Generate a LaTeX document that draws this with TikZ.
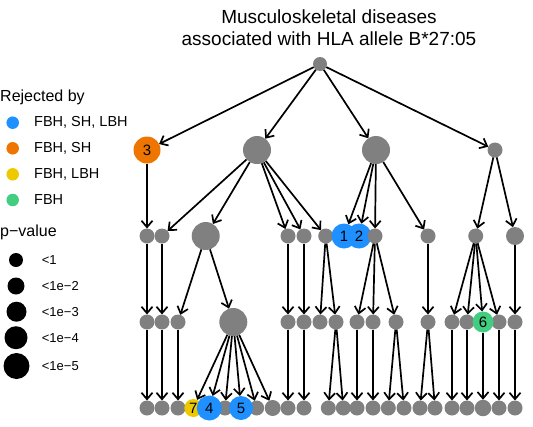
\documentclass[tikz,border=0pt]{standalone}
\usepackage{fontspec}
\setmainfont{Liberation Sans}
\usetikzlibrary{arrows.meta,backgrounds}
\definecolor{vgray}{RGB}{128,128,128}
\definecolor{vblue}{RGB}{30,144,255}
\definecolor{vorange}{RGB}{238,118,0}
\definecolor{vgold}{RGB}{238,201,0}
\definecolor{vgreen}{RGB}{67,205,128}
\tikzset{
  vtx/.style={circle, fill=vgray, inner sep=0pt, outer sep=0pt, minimum size=#1, font=\fontsize{15}{15}\selectfont},
  vtx/.default=15pt,
  edge/.style={line width=1.7pt, -{Straight Barb[length=6.5pt,width=11pt]}},
  legtxt/.style={anchor=west, inner sep=0pt, font=\fontsize{14.5}{15}\selectfont},
  pvtxt/.style={anchor=west, inner sep=0pt, font=\fontsize{13}{14}\selectfont},
  head/.style={anchor=west, inner sep=0pt, font=\fontsize{16}{17}\selectfont},
  ttl/.style={anchor=base, inner sep=0pt, font=\fontsize{19}{21}\selectfont},
  ldot/.style={circle, inner sep=0pt, outer sep=0pt, minimum size=#1},
}
\begin{document}
\begin{tikzpicture}[x=1pt,y=-1pt]
\useasboundingbox (0,0) rectangle (533,426);
% title
\node[ttl] (t1) at (329,23.3) {Musculoskeletal diseases};
\node[ttl] (t2) at (329,45) {associated with HLA allele B*27:05};
% legend
\node[head] (lh1) at (0,97) {Rejected by};
\node[ldot=12.5pt, fill=vblue] (lc1) at (12.7,122.7) {};
\node[ldot=12.5pt, fill=vorange] (lc2) at (12.7,148.3) {};
\node[ldot=12.5pt, fill=vgold] (lc3) at (12.7,174.3) {};
\node[ldot=12.5pt, fill=vgreen] (lc4) at (12.7,200) {};
\node[legtxt] (lt1) at (34,122.7) {FBH, SH, LBH};
\node[legtxt] (lt2) at (34,148.3) {FBH, SH};
\node[legtxt] (lt3) at (34,174.3) {FBH, LBH};
\node[legtxt] (lt4) at (34,200) {FBH};
\node[head] (lh2) at (0,232) {p−value};
\node[ldot=14pt, fill=black] (lp1) at (16,260) {};
\node[ldot=17pt, fill=black] (lp2) at (16,286) {};
\node[ldot=20pt, fill=black] (lp3) at (16.5,311.7) {};
\node[ldot=23pt, fill=black] (lp4) at (16,337.7) {};
\node[ldot=26pt, fill=black] (lp5) at (16.5,366) {};
\node[pvtxt] (lq1) at (41.7,260) {<1};
\node[pvtxt] (lq2) at (41.7,286) {<1e−2};
\node[pvtxt] (lq3) at (41.7,311.7) {<1e−3};
\node[pvtxt] (lq4) at (41.7,337.7) {<1e−4};
\node[pvtxt] (lq5) at (41.7,366) {<1e−5};
% level 0
\node[vtx=14pt] (r) at (320,64) {};
% level 1
\node[vtx=27pt, fill=vorange] (a1) at (147,150) {3};
\node[vtx=28pt] (a2) at (257,150) {};
\node[vtx=28pt] (a3) at (376,150) {};
\node[vtx] (a4) at (495,150) {};
% level 2
\node[vtx] (b1) at (147,236) {};
\node[vtx] (b2) at (162,236) {};
\node[vtx=28pt] (b3) at (205.7,236) {};
\node[vtx] (b4) at (288,236) {};
\node[vtx] (b5) at (304,236) {};
\node[vtx] (b6) at (325.7,236) {};
\node[vtx=25pt, fill=vblue] (b7) at (344,236) {1};
\node[vtx=25pt, fill=vblue] (b8) at (359,236) {2};
\node[vtx] (b9) at (375,236) {};
\node[vtx] (b10) at (428,236) {};
\node[vtx] (b11) at (475.7,236) {};
\node[vtx=18pt] (b12) at (515,236) {};
% level 3
\node[vtx] (c1) at (147,322) {};
\node[vtx] (c2) at (162,322) {};
\node[vtx] (c3) at (178,322) {};
\node[vtx=28pt] (c4) at (233.3,322) {};
\node[vtx] (c5) at (288,322) {};
\node[vtx] (c6) at (304,322) {};
\node[vtx] (c7) at (320,322) {};
\node[vtx] (c8) at (336,322) {};
\node[vtx] (c9) at (357,322) {};
\node[vtx] (c10) at (373,322) {};
\node[vtx] (c11) at (396,322) {};
\node[vtx] (c12) at (428,322) {};
\node[vtx] (c13) at (452,322) {};
\node[vtx] (c14) at (467,322) {};
\node[vtx] (c16) at (499,322) {};
\node[vtx] (c17) at (515,322) {};
\node[vtx=21pt, fill=vgreen] (c15) at (483,322) {6};
% level 4
\node[vtx] (d1) at (147,408) {};
\node[vtx] (d2) at (162,408) {};
\node[vtx] (d3) at (178,408) {};
\node[vtx] (d6) at (225,408) {};
\node[vtx] (d8) at (256.7,408) {};
\node[vtx=16pt] (d9) at (272.7,408) {};
\node[vtx] (d10) at (288,408) {};
\node[vtx] (d11) at (304,408) {};
\node[vtx] (d12) at (328.3,408) {};
\node[vtx] (d13) at (343.3,408) {};
\node[vtx] (d14) at (357,408) {};
\node[vtx] (d15) at (373,408) {};
\node[vtx] (d16) at (388.3,408) {};
\node[vtx] (d17) at (404,408) {};
\node[vtx] (d18) at (420,408) {};
\node[vtx] (d19) at (435,408) {};
\node[vtx] (d20) at (452,408) {};
\node[vtx] (d21) at (467,408) {};
\node[vtx=16.5pt] (d22) at (483,408) {};
\node[vtx] (d23) at (499,408) {};
\node[vtx] (d24) at (515,408) {};
\node[vtx=18pt, fill=vgold] (d4) at (193.3,408) {7};
\node[vtx=25pt, fill=vblue] (d5) at (209.3,408) {4};
\node[vtx=24pt, fill=vblue] (d7) at (241,408) {5};
% edges
\begin{scope}[on background layer]
\foreach \s/\t in {r/a1,r/a2,r/a3,r/a4,
  a1/b1,a2/b2,a2/b3,a2/b4,a2/b5,a2/b6,a3/b7,a3/b8,a3/b9,a3/b10,a4/b11,a4/b12,
  b1/c1,b2/c2,b3/c3,b3/c4,b4/c5,b5/c6,b6/c7,b6/c8,b9/c9,b9/c10,b9/c11,b10/c12,
  b11/c13,b11/c14,b11/c15,b11/c16,b12/c17,
  c1/d1,c2/d2,c3/d3,c4/d4,c4/d5,c4/d6,c4/d7,c4/d8,c4/d9,c5/d10,c6/d11,
  c8/d12,c8/d13,c9/d14,c10/d15,c11/d16,c11/d17,c12/d18,c12/d19,
  c13/d20,c14/d21,c15/d22,c16/d23,c17/d24}
  \draw[edge] (\s) -- (\t);
\end{scope}
\end{tikzpicture}
\end{document}
